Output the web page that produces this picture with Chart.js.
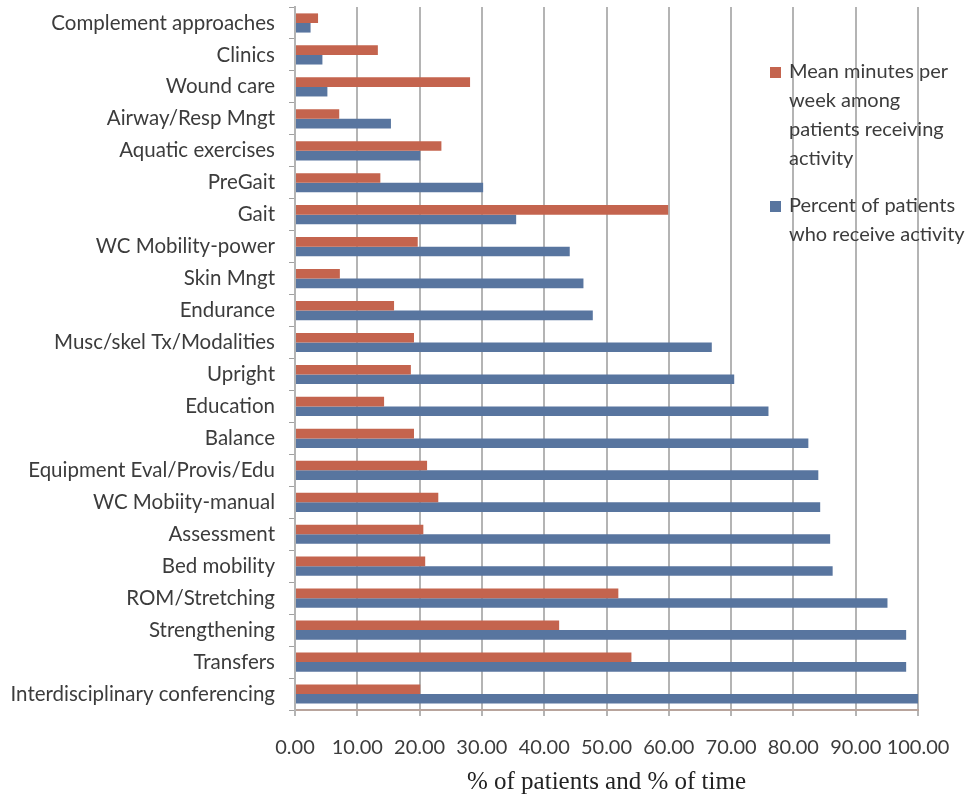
<!DOCTYPE html>
<html lang="en">
<head>
    <meta charset="UTF-8">
    <title>Activities by percent of patients and time</title>
    <script src="https://cdn.jsdelivr.net/npm/chart.js"></script>
    <style>
        html, body { margin: 0; padding: 0; background: #fff; }
        #wrap { width: 971px; height: 797px; }
    </style>
</head>
<body>
<div id="wrap"><canvas id="activityChart"></canvas></div>

<script>
    const categories = [
        'Complement approaches', 'Clinics', 'Wound care', 'Airway/Resp Mngt',
        'Aquatic exercises', 'PreGait', 'Gait', 'WC Mobility-power', 'Skin Mngt',
        'Endurance', 'Musc/skel Tx/Modalities', 'Upright', 'Education', 'Balance',
        'Equipment Eval/Provis/Edu', 'WC Mobiity-manual', 'Assessment', 'Bed mobility',
        'ROM/Stretching', 'Strengthening', 'Transfers', 'Interdisciplinary conferencing'
    ];
    const meanMinutes = [
        3.7, 13.3, 28.1, 7.1, 23.5, 13.7, 59.9, 19.7, 7.2, 15.9, 19.1,
        18.6, 14.3, 19.1, 21.2, 23.0, 20.6, 20.9, 51.9, 42.4, 54.0, 20.1
    ];
    const percentPatients = [
        2.5, 4.4, 5.2, 15.4, 20.1, 30.2, 35.5, 44.1, 46.3, 47.8, 66.9,
        70.5, 76.0, 82.4, 84.0, 84.3, 85.9, 86.3, 95.1, 98.1, 98.1, 100.0
    ];
    const xTicks = [0, 10, 20, 30, 40, 50, 60, 70, 80, 90, 100];
    const legendLines = [
        ['Mean minutes per', 'week among', 'patients receiving', 'activity'],
        ['Percent of patients', 'who receive activity']
    ];

    const labelFont = 'Lato, "Open Sans", sans-serif';

    // legend sits on top of the plot, like the original
    const sideLegend = {
        id: 'sideLegend',
        afterDraw(chart) {
            const ctx = chart.ctx;
            const x = chart.chartArea.right - 148;
            const starts = [72, 206];
            ctx.save();
            ctx.font = '20px ' + labelFont;
            ctx.textBaseline = 'middle';
            chart.data.datasets.forEach((ds, i) => {
                ctx.fillStyle = ds.backgroundColor;
                ctx.fillRect(x, starts[i] - 5, 11, 11);
                ctx.fillStyle = '#3c3c3c';
                legendLines[i].forEach((line, j) => {
                    ctx.fillText(line, x + 19, starts[i] + j * 29);
                });
            });
            ctx.restore();
        }
    };

    new Chart(document.getElementById('activityChart'), {
        type: 'bar',
        data: {
            labels: categories,
            datasets: [{
                label: 'Mean minutes per week among patients receiving activity',
                data: meanMinutes,
                backgroundColor: '#c4644e'
            }, {
                label: 'Percent of patients who receive activity',
                data: percentPatients,
                backgroundColor: '#58759f'
            }]
        },
        options: {
            indexAxis: 'y',
            responsive: true,
            maintainAspectRatio: false,
            animation: false,
            layout: { padding: { top: 7, right: 53, left: 0, bottom: 0 } },
            datasets: { bar: { barPercentage: 1, categoryPercentage: 0.6 } },
            plugins: {
                legend: { display: false },
                tooltip: { enabled: false }
            },
            scales: {
                x: {
                    min: 0,
                    max: 100,
                    afterFit(scale) {
                        scale.height = 87;
                        scale.paddingLeft = 0;
                        scale.paddingRight = 0;
                    },
                    afterBuildTicks(scale) { scale.ticks = xTicks.map(v => ({ value: v })); },
                    ticks: {
                        callback: v => Number(v).toFixed(2),
                        font: { family: labelFont, size: 20 },
                        color: '#3c3c3c',
                        padding: 20,
                        maxRotation: 0,
                        autoSkip: false
                    },
                    grid: { color: '#b4b4b4', lineWidth: 2, tickLength: 6 },
                    border: { color: '#b8a49c', width: 2 },
                    title: {
                        display: true,
                        text: '% of patients and % of time',
                        font: { family: '"Liberation Serif", "DejaVu Serif", serif', size: 25 },
                        color: '#222',
                        padding: { top: 8, bottom: 0 }
                    }
                },
                y: {
                    afterFit(scale) {
                        scale.width = 295;
                        scale.paddingTop = 0;
                        scale.paddingBottom = 0;
                    },
                    ticks: {
                        font: { family: labelFont, size: 20.5 },
                        color: '#3c3c3c',
                        padding: 14,
                        autoSkip: false
                    },
                    grid: { offset: true, drawOnChartArea: false, color: '#a0a0a0', tickLength: 6 },
                    border: { color: '#b4b4b4', width: 2 }
                }
            }
        },
        plugins: [sideLegend]
    });
</script>
</body>
</html>
